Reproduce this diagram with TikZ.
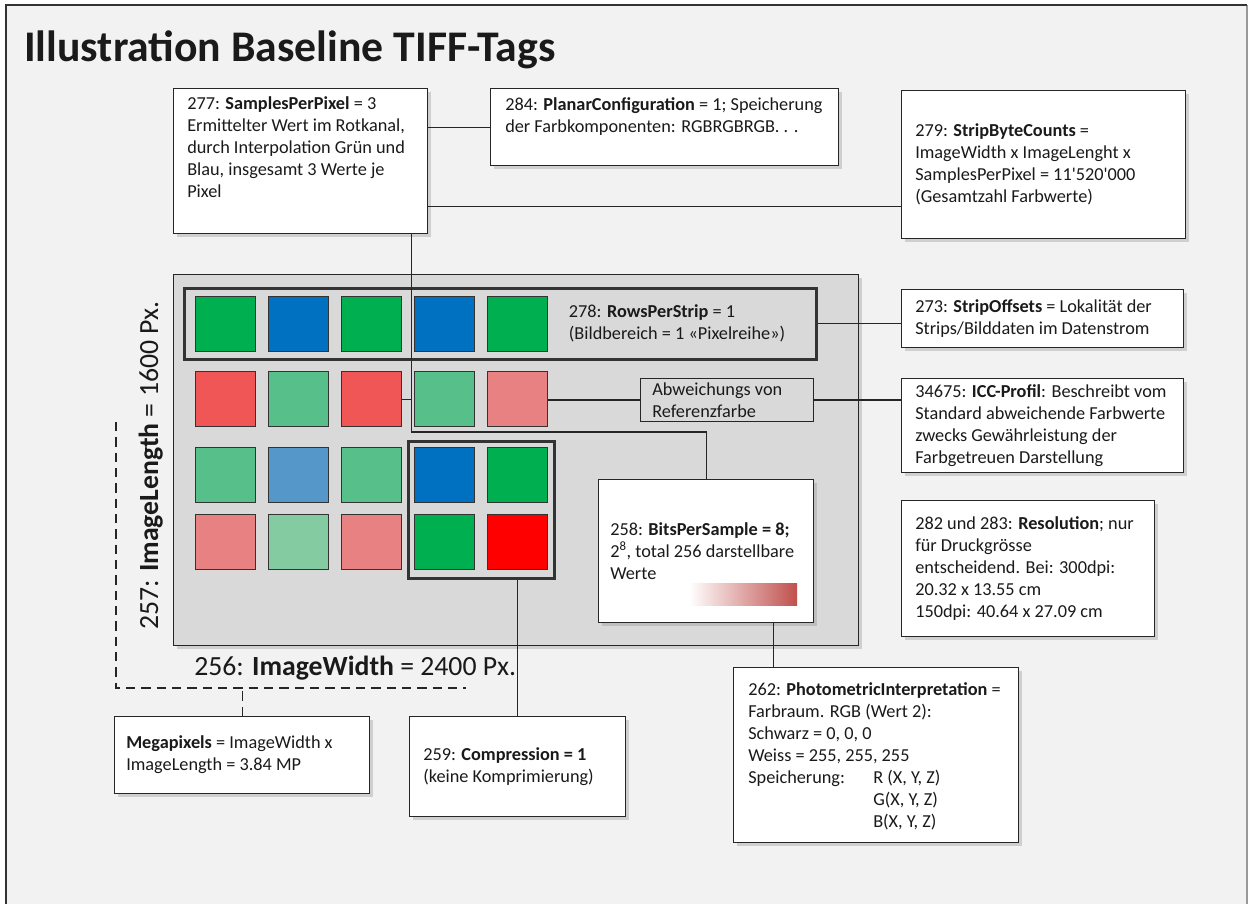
\documentclass[tikz,border=0pt]{standalone}
\usepackage{fontspec}
\setmainfont{Carlito}
\usetikzlibrary{shadows}
\definecolor{bgc}{HTML}{F2F2F2}
\definecolor{imggray}{HTML}{D9D9D9}
\definecolor{cG}{HTML}{00B050}
\definecolor{cB}{HTML}{0070C0}
\definecolor{cR}{HTML}{F05656}
\definecolor{cLG}{HTML}{57C08A}
\definecolor{cPk}{HTML}{E88282}
\definecolor{cLB}{HTML}{5597C9}
\definecolor{cPG}{HTML}{84CBA1}
\definecolor{cRed}{HTML}{FF0000}
\definecolor{txt}{HTML}{1A1A1A}
\definecolor{barred}{HTML}{C0504D}
\newcommand\tagbox[5]{\node[tagbox, minimum width={(#4-#2)*0.75pt}, minimum height={(#5-#3)*0.75pt}] (#1) at (#2,#3) {};}
\begin{document}
\begin{tikzpicture}[x=0.75pt, y=-0.75pt,
  tagbox/.style={draw=black!85, line width=0.9pt, fill=white, anchor=north west, inner sep=0pt,
    drop shadow={opacity=0.3, shadow xshift=2.5pt, shadow yshift=-2.5pt}},
  tagtext/.style={align=left, inner sep=0pt, font=\fontsize{13.7}{16.5}\selectfont, text=txt},
  px/.style={draw=black!80, line width=0.8pt, anchor=north west, inner sep=0pt,
    minimum width=45pt, minimum height=41.25pt},
  conn/.style={draw=black!85, line width=0.8pt},
  frame/.style={draw=black!80, line width=2pt, anchor=north west, inner sep=0pt},
  dimlabel/.style={inner sep=0pt, font=\fontsize{20.8}{25}\selectfont, text=txt}]
\useasboundingbox (0,0) rectangle (1249,903);
\fill[white] (0,0) rectangle (1249,903);
\fill[bgc] (6,5) rectangle (1247,910);
\draw[black!40, line width=0.8pt] (1247,5) -- (1247,910);
\draw[black!80, line width=1.6pt] (6,910) -- (6,5) -- (1247,5);

% title
\node[anchor=base west, inner sep=0pt, font=\fontsize{32.8}{38}\selectfont\bfseries, text=txt] (title) at (24,61) {Illustration Baseline TIFF-Tags};

% image area
\node[anchor=north west, inner sep=0pt, fill=imggray, draw=black!85, line width=0.9pt,
  minimum width={685*0.75pt}, minimum height={371*0.75pt},
  drop shadow={opacity=0.3, shadow xshift=2.5pt, shadow yshift=-2.5pt}] (img) at (173,274) {};

% pixels
\foreach \c [count=\i] in {cG,cB,cG,cB,cG} {\node[px, fill=\c] (p1\i) at ({195+73*(\i-1)},296) {};}
\foreach \c [count=\i] in {cR,cLG,cR,cLG,cPk} {\node[px, fill=\c] (p2\i) at ({195+73*(\i-1)},371) {};}
\foreach \c [count=\i] in {cLG,cLB,cLG,cB,cG} {\node[px, fill=\c] (p3\i) at ({195+73*(\i-1)},447) {};}
\foreach \c [count=\i] in {cPk,cPG,cPk,cG,cRed} {\node[px, fill=\c] (p4\i) at ({195+73*(\i-1)},514) {};}

% strip frame and 2x2 frame
\node[frame, minimum width={632*0.75pt}, minimum height={71*0.75pt}] (strip) at (183,287) {};
\node[tagtext, anchor=west] (t278) at ([xshift=-186.75pt]strip.east) {278: \textbf{RowsPerStrip} = 1\\(Bildbereich = 1 «Pixelreihe»)};
\node[frame, minimum width={146*0.75pt}, minimum height={137*0.75pt}] (inner) at (407,440) {};

% Abweichungs box
\node[anchor=north west, inner sep=0pt, fill=imggray, draw=black!85, line width=0.7pt,
  minimum width={173*0.75pt}, minimum height={43*0.75pt}] (abw) at (640,378) {};
\node[tagtext, anchor=west] (tabw) at ([xshift=9pt]abw.west) {Abweichungs von\\Referenzfarbe};

% boxes
\tagbox{b277}{173}{88}{427}{233}
\node[tagtext, anchor=north west] (t277) at ([shift={(10.5pt,-6.5pt)}]b277.north west)
 {277: \textbf{SamplesPerPixel} = 3\\Ermittelter Wert im Rotkanal,\\durch Interpolation Grün und\\Blau, insgesamt 3 Werte je\\Pixel};
\tagbox{b284}{490}{88}{838}{165}
\node[tagtext, anchor=north west] (t284) at ([shift={(11.25pt,-7pt)}]b284.north west)
 {284: \textbf{PlanarConfiguration} = 1; Speicherung\\der Farbkomponenten: RGBRGBRGB. . .};
\tagbox{b279}{901}{90}{1185}{238}
\node[tagtext, anchor=west] (t279) at ([xshift=10.5pt]b279.west)
 {279: \textbf{StripByteCounts} =\\ImageWidth x ImageLenght x\\SamplesPerPixel = 11\textquotesingle 520\textquotesingle 000\\(Gesamtzahl Farbwerte)};
\tagbox{b273}{901}{289}{1183}{347}
\node[tagtext, anchor=west] (t273) at ([xshift=10.5pt]b273.west)
 {273: \textbf{StripOffsets} = Lokalität der\\Strips/Bilddaten im Datenstrom};
\tagbox{bicc}{901}{378}{1183}{472}
\node[tagtext, anchor=west] (ticc) at ([xshift=10.5pt]bicc.west)
 {34675: \textbf{ICC-Profil}: Beschreibt vom\\Standard abweichende Farbwerte\\zwecks Gewährleistung der\\Farbgetreuen Darstellung};
\tagbox{b282}{901}{500}{1154}{636}
\node[tagtext, anchor=west] (t282) at ([xshift=10.5pt]b282.west)
 {282 und 283: \textbf{Resolution}; nur\\für Druckgrösse\\entscheidend. Bei: 300dpi:\\20.32 x 13.55 cm\\150dpi: 40.64 x 27.09 cm};
\tagbox{b258}{598}{479}{813}{622}
\node[tagtext, anchor=north west] (t258) at ([shift={(9pt,-32.5pt)}]b258.north west)
 {258: \textbf{BitsPerSample = 8;}\\2\textsuperscript{8}, total 256 darstellbare\\Werte};
\shade[left color=white, right color=barred] (689,583) rectangle (797,605);
\tagbox{b262}{733}{667}{1018}{842}
\node[tagtext, anchor=north west] (t262) at ([shift={(11.25pt,-11.5pt)}]b262.north west)
 {262: \textbf{PhotometricInterpretation} =\\Farbraum. RGB (Wert 2):\\Schwarz = 0, 0, 0\\Weiss = 255, 255, 255\\\makebox[93.75pt][l]{Speicherung:}R (X, Y, Z)\\\hspace*{93.75pt}G(X, Y, Z)\\\hspace*{93.75pt}B(X, Y, Z)};
\tagbox{bmp}{114}{716}{369}{793}
\node[tagtext, anchor=west] (tmp) at ([xshift=9pt]bmp.west)
 {\textbf{Megapixels} = ImageWidth x\\ImageLength = 3.84 MP};
\tagbox{b259}{409}{716}{625}{816}
\node[tagtext, anchor=west] (t259) at ([xshift=10.5pt]b259.west)
 {259: \textbf{Compression = 1}\\(keine Komprimierung)};

% dimension labels
\node[dimlabel, anchor=base west] (lw) at (194,675) {256: \textbf{ImageWidth} = 2400 Px.};
\node[dimlabel, anchor=base west, rotate=90] (ll) at (158,630) {257: \textbf{ImageLength} = 1600 Px.};

% dashed megapixel guides
\coordinate (dtop) at (116,422);
\coordinate (dcorner) at (116,688);
\coordinate (dend) at (466,688);
\draw[conn, dash pattern=on 7pt off 4.5pt] (dtop) -- (dcorner) -- (dend);
\draw[conn, dash pattern=on 7pt off 4.5pt] (bmp.north) -- (bmp.north |- dcorner);

% connectors
\draw[conn] (b277.east |- b284.west) -- (b284.west);
\coordinate (c279) at ([yshift=21pt]b277.south east);
\draw[conn] (c279) -- (c279 -| b279.west);
\coordinate (vx) at ([xshift=-12.75pt]b277.south east);
\draw[conn] (vx) |- ([yshift=35.25pt]b258.north) -- (b258.north);
\draw[conn] (p23.east) -- (p23.east -| vx);
\draw[conn] (abw.west) -- (abw.west -| p25.east);
\draw[conn] (abw.east) -- (abw.east -| bicc.west);
\draw[conn] (strip.east) -- (strip.east -| b273.west);
\draw[conn] (b259.north) -- (b259.north |- inner.south);
\coordinate (c258) at ([xshift=-30.75pt]b258.south east);
\draw[conn] (c258) -- (c258 |- b262.north);
\end{tikzpicture}
\end{document}
